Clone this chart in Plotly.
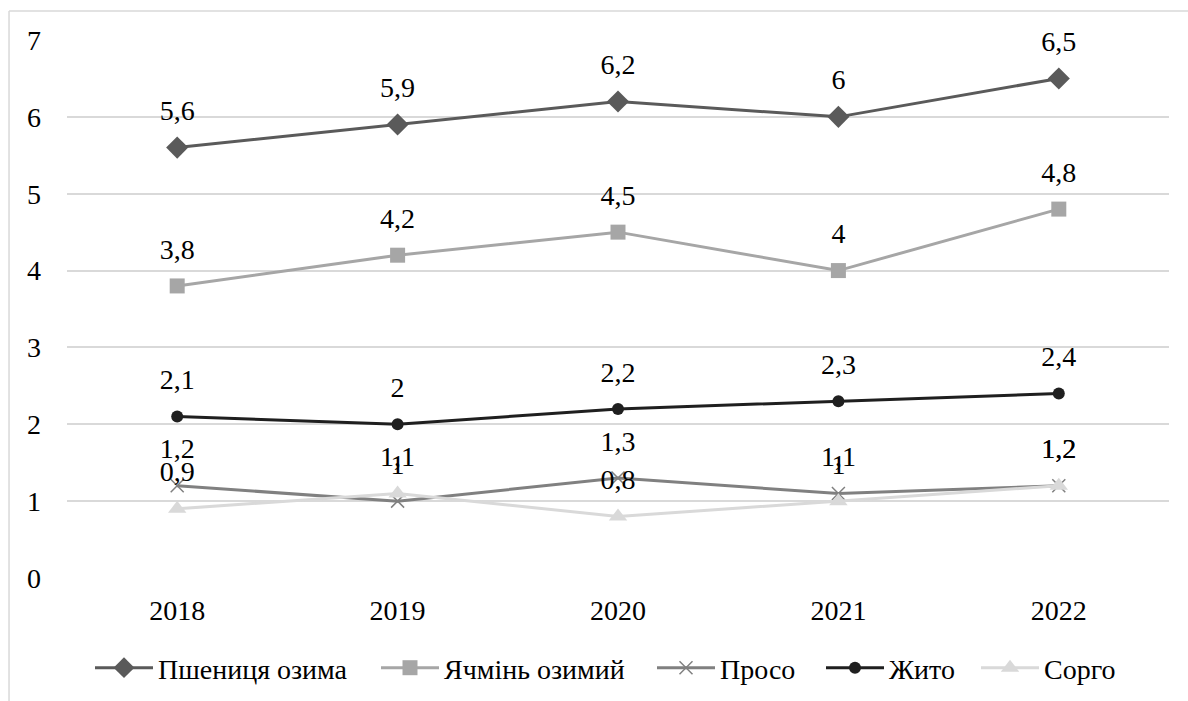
import plotly.graph_objects as go

# Years on the category axis
years = ["2018", "2019", "2020", "2021", "2022"]

# Yield series, one list per crop
wheat_winter = [5.6, 5.9, 6.2, 6.0, 6.5]   # Пшениця озима
barley_winter = [3.8, 4.2, 4.5, 4.0, 4.8]  # Ячмінь озимий
millet = [1.2, 1.0, 1.3, 1.1, 1.2]         # Просо
rye = [2.1, 2.0, 2.2, 2.3, 2.4]            # Жито
sorghum = [0.9, 1.1, 0.8, 1.0, 1.2]        # Сорго

y_ticks = [0, 1, 2, 3, 4, 5, 6, 7]

FONT = "Liberation Serif"
FS = 28
W, H = 1188, 701

# name, values, colour, marker symbol, marker size, legend left edge (px)
series = [
    ("Пшениця озима", wheat_winter, "#5a5a5a", "diamond", 17, 90),
    ("Ячмінь озимий", barley_winter, "#a6a6a6", "square", 15, 376),
    ("Просо", millet, "#808080", "x-thin-open", 13, 652),
    ("Жито", rye, "#1f1f1f", "circle", 12, 821),
    ("Сорго", sorghum, "#d9d9d9", "triangle-up", 16, 976),
]

PLOT_L, PLOT_R = 67, 1169
LEGEND_Y = 668


def fmt(v):
    return f"{v:g}".replace(".", ",")


fig = go.Figure()
legends = {}
for i, (name, vals, color, symbol, size, leg_px) in enumerate(series):
    leg_id = "legend" if i == 0 else f"legend{i + 1}"
    marker = dict(symbol=symbol, size=size, color=color)
    if symbol == "x-thin-open":
        marker["line"] = dict(color=color, width=1.5)
    fig.add_trace(go.Scatter(
        x=years, y=vals, name=name, mode="lines+markers",
        line=dict(color=color, width=3),
        marker=marker,
        legend=leg_id,
    ))
    legends[leg_id] = dict(
        orientation="h",
        xref="container", x=leg_px / W, xanchor="left",
        yref="container", y=1 - LEGEND_Y / H, yanchor="middle",
        itemwidth=58, bgcolor="rgba(0,0,0,0)",
        font=dict(family=FONT, size=FS, color="#000000"),
    )

# Value labels above each point (invisible marker sets the label offset)
for name, vals, color, symbol, size, leg_px in series:
    fig.add_trace(go.Scatter(
        x=years, y=vals, mode="markers+text",
        text=[fmt(v) for v in vals], textposition="top center",
        textfont=dict(family=FONT, size=FS, color="#000000"),
        marker=dict(size=31, color="rgba(0,0,0,0)"),
        cliponaxis=False,
        showlegend=False, hoverinfo="skip",
    ))

# Light frame around the chart
shapes = [
    dict(type="line", xref="paper", yref="paper",
         x0=-0.0526, x1=1.1, y0=1.0539, y1=1.0539,
         line=dict(color="#d9d9d9", width=1.5)),
    dict(type="line", xref="paper", yref="paper",
         x0=-0.0526, x1=-0.0526, y0=1.0539, y1=-0.3,
         line=dict(color="#d9d9d9", width=1.5)),
]

fig.update_layout(
    width=W, height=H,
    margin=dict(l=PLOT_L, r=W - PLOT_R, t=40, b=123, autoexpand=False),
    paper_bgcolor="white", plot_bgcolor="white",
    font=dict(family=FONT, size=FS, color="#000000"),
    showlegend=True,
    xaxis=dict(
        type="category", range=[-0.5, 4.5], showgrid=False, zeroline=False,
        showline=False, ticks="", ticklabelstandoff=13, automargin=False,
        tickfont=dict(family=FONT, size=FS, color="#000000"),
    ),
    yaxis=dict(
        range=[0, 7], tickvals=y_ticks, showgrid=True, gridcolor="#d9d9d9",
        gridwidth=1.5, zeroline=False, showline=False, ticks="",
        ticklabelstandoff=25, automargin=False,
        tickfont=dict(family=FONT, size=FS, color="#000000"),
    ),
    shapes=shapes,
    **legends,
)

fig.write_html("out.html")
